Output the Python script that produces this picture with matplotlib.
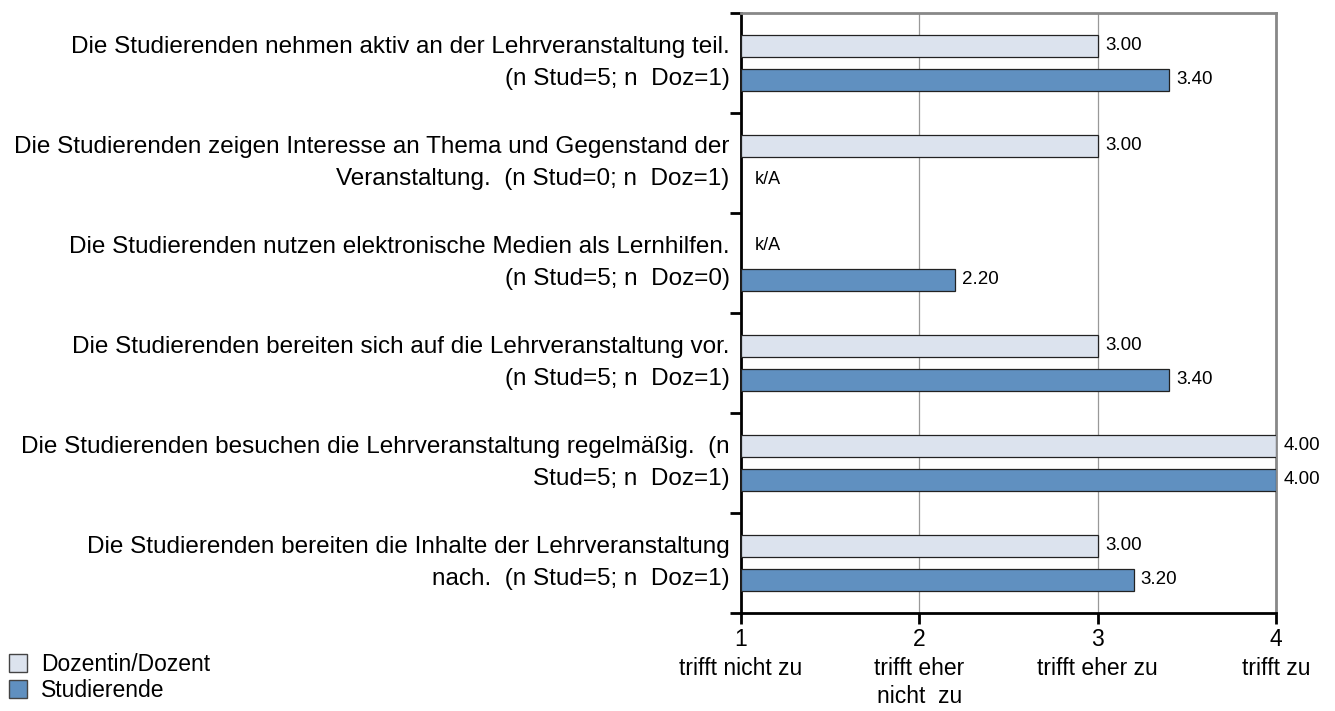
import numpy as np
import matplotlib.pyplot as plt
from matplotlib.patches import Patch

plt.rcParams['font.family'] = ['Liberation Sans', 'DejaVu Sans']

labels = [
    'Die Studierenden nehmen aktiv an der Lehrveranstaltung teil.\n(n Stud=5; n  Doz=1)',
    'Die Studierenden zeigen Interesse an Thema und Gegenstand der\nVeranstaltung.  (n Stud=0; n  Doz=1)',
    'Die Studierenden nutzen elektronische Medien als Lernhilfen.\n(n Stud=5; n  Doz=0)',
    'Die Studierenden bereiten sich auf die Lehrveranstaltung vor.\n(n Stud=5; n  Doz=1)',
    'Die Studierenden besuchen die Lehrveranstaltung regelmäßig.  (n\nStud=5; n  Doz=1)',
    'Die Studierenden bereiten die Inhalte der Lehrveranstaltung\nnach.  (n Stud=5; n  Doz=1)',
]
dozent = [3.00, 3.00, None, 3.00, 4.00, 3.00]
studierende = [3.40, None, 2.20, 3.40, 4.00, 3.20]
xticks = [1, 2, 3, 4]
xticklabels = ['1\ntrifft nicht zu', '2\ntrifft eher\nnicht  zu', '3\ntrifft eher zu', '4\ntrifft zu']

c_doz = '#dce3ee'
c_stud = '#6090c0'

fig = plt.figure(figsize=(13.35, 7.11), dpi=100)
ax = fig.add_axes([0.555, 0.138, 0.401, 0.844])

n = len(labels)
centers = np.arange(n) + 0.5
h = 0.22
off = 0.17

for i in range(n):
    yc = centers[i]
    for val, yy, col in [(dozent[i], yc - off, c_doz), (studierende[i], yc + off, c_stud)]:
        if val is None:
            ax.text(1.08, yy, 'k/A', va='center', ha='left', fontsize=13)
        else:
            ax.barh(yy, val - 1, left=1, height=h, color=col, edgecolor='#222222', linewidth=0.9, zorder=3)
            ax.text(val + 0.04, yy, f'{val:.2f}', va='center', ha='left', fontsize=13.5)

ax.set_xlim(1, 4)
ax.set_ylim(n, 0)
ax.set_yticks(np.arange(n + 1))
ax.set_yticklabels([])
ax.tick_params(axis='y', length=8, width=2, direction='out')
for i in range(n):
    ax.text(-0.021, centers[i], labels[i], transform=ax.get_yaxis_transform(),
            ha='right', va='center', fontsize=17.5, linespacing=1.6)

ax.set_xticks(xticks)
ax.set_xticklabels(xticklabels, fontsize=16.5, linespacing=1.3)
ax.tick_params(axis='x', length=8, width=2, direction='out', pad=3)

ax.xaxis.grid(True, color='#999999', linewidth=0.9, zorder=0)
ax.set_axisbelow(True)
for s in ['top', 'right']:
    ax.spines[s].set_color('#888888')
    ax.spines[s].set_linewidth(2)
ax.spines['left'].set_linewidth(2)
ax.spines['bottom'].set_linewidth(2)

handles = [Patch(facecolor=c_doz, edgecolor='#444444', label='Dozentin/Dozent'),
           Patch(facecolor=c_stud, edgecolor='#444444', label='Studierende')]
fig.legend(handles=handles, loc='lower left', bbox_to_anchor=(-0.009, -0.016), frameon=False,
           fontsize=16.5, handlelength=0.8, handleheight=0.8, handletextpad=0.6, labelspacing=0.12)

fig.savefig('out.png', dpi=100)
